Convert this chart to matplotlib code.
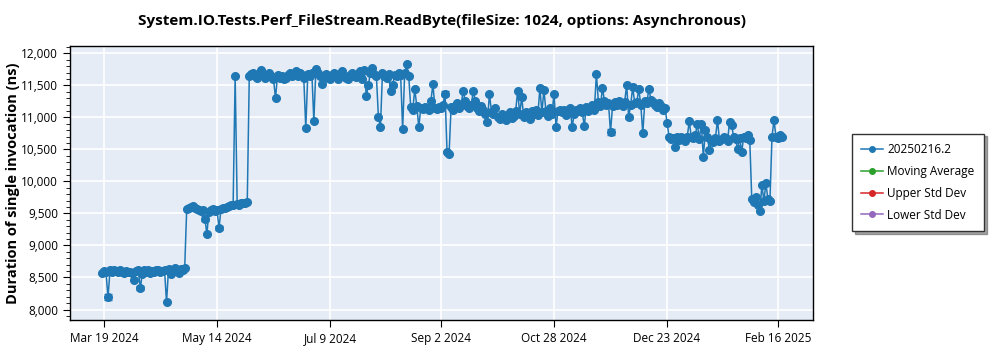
import numpy as np
import pandas as pd
import matplotlib
matplotlib.use('Agg')
from matplotlib import pyplot as plt
import matplotlib.dates as mdates
from matplotlib.ticker import MultipleLocator, FuncFormatter

plt.rcParams['font.family'] = ['Open Sans', 'DejaVu Sans']

title = 'System.IO.Tests.Perf_FileStream.ReadByte(fileSize: 1024, options: Asynchronous)'
y_label = 'Duration of single invocation (ns)'
series_names = ['20250216.2', 'Moving Average', 'Upper Std Dev', 'Lower Std Dev']
series_colors = ['#1f77b4', '#2ca02c', '#d62728', '#9467bd']

# daily results, one list per run of consecutive days
seg1_start = '2024-03-18'
seg1 = [8570, 8600, 8580, 8190, 8610, 8590, 8620, 8600, 8580, 8610, 8590, 8570, 8600, 8580,
        8590, 8570, 8455, 8600, 8620, 8330, 8560, 8610, 8590, 8620, 8570, 8600, 8590, 8610,
        8620, 8580, 8600, 8620, 8110, 8640, 8560, 8600, 8650, 8620, 8570, 8630, 8610, 8650]

seg2_start = '2024-04-29'
seg2 = [9570, 9580, 9600, 9620, 9590, 9570, 9560, 9540, 9560, 9420, 9180, 9530, 9550, 9570,
        9540, 9560, 9270, 9570, 9590, 9580, 9600, 9610, 9630, 9640, 11650, 9650, 9630, 9660,
        9670, 9660, 9680]

seg3_start = '2024-05-30'
seg3 = [11640, 11680,
        11700, 11650, 11620, 11680, 11740, 11660, 11610, 11650, 11700, 11640,
        11600, 11300, 11660, 11620, 11650, 11600, 11620, 11660, 11700, 11640,
        11680, 11720, 11650, 11700, 11660, 11620, 10830, 11680, 11650, 11700,
        10940, 11760, 11690, 11650, 11520, 11640, 11680, 11620, 11600, 11660,
        11700, 11640, 11600, 11680, 11720, 11650, 11620, 11600, 11660, 11700,
        11650, 11630, 11680, 11720, 11600, 11740, 11340, 11500, 11700, 11780, 11680,
        11640, 11000, 10850, 11700, 11650, 11620, 11680, 11420, 11500, 11660,
        11640, 11700, 11660, 10820, 11690, 11830, 11650]

seg4_start = '2024-08-18'
seg4 = [11160, 11120, 11440, 11180, 10850, 11150, 11130, 11170, 11140, 11120, 11260, 11520, 11150, 11130,
        11170, 11140, 11200, 11370, 10460, 10430, 11160, 11120, 11180, 11220,
        11150, 11200, 11420, 11250, 11180, 11140, 11200, 11410, 11260, 11150,
        11100, 11180, 11120, 11060, 10930, 11370, 11090, 11050, 11140, 11000,
        10980, 11060, 11020, 10960, 11040, 11080, 10990, 11030, 11100, 11420,
        11050, 11320, 11000, 11080, 11040, 10980, 11100, 11060, 11120, 11040,
        11460, 11080, 11430, 11100, 11020, 11140, 11060, 11370, 10850, 11100, 11120,
        11080, 11120, 11040, 11100, 11150, 10850, 11060, 11120, 11100, 11140,
        11080, 10870, 11160, 11100, 11150, 11200, 11120, 11680, 11240, 11180,
        11460, 11260, 11200, 11220, 10770, 11180, 11240, 11200, 11260, 11220,
        11180, 11240, 11510, 11000, 11200, 11470, 11220, 11240, 11440, 11200,
        10750, 11260, 11220, 11450, 11280, 11240, 11200, 11160, 11220, 11180, 11120, 11150]

seg5_start = '2024-12-23'
seg5 = [10920, 10700, 10660, 10680, 10540, 10690, 10650, 10700, 10670,
        10640, 10690, 10940, 10700, 10680, 10720, 10900, 10660, 10900, 10380,
        10800, 10700, 10490, 10650, 10620, 10680, 10960, 10640, 10660, 10700,
        10680, 10640, 10930, 10880, 10700, 10660, 10500, 10680, 10460, 10700, 10680,
        10720, 10650]

seg6_start = '2025-02-03'
seg6 = [9720, 9680, 9750, 9640, 9535, 9940, 9700, 9970, 9720, 9700]

seg7_start = '2025-02-13'
seg7 = [10690, 10960, 10700, 10680, 10720, 10700]

# points whose error bar shows outside the marker
err_dates = ['2024-03-21', '2024-04-06', '2024-05-08', '2024-05-15', '2024-07-28',
             '2024-08-09', '2024-09-04', '2024-11-25', '2024-12-04', '2025-02-05']
err_sizes = [45, 30, 40, 30, 25, 25, 40, 50, 25, 30]

tick_dates = ['2024-03-19', '2024-05-14', '2024-07-09', '2024-09-02',
              '2024-10-28', '2024-12-23', '2025-02-16']

segments = [(seg1_start, seg1), (seg2_start, seg2), (seg3_start, seg3), (seg4_start, seg4),
            (seg5_start, seg5), (seg6_start, seg6), (seg7_start, seg7)]
dates = []
values = []
for start, vals in segments:
    dates.extend(pd.date_range(start, periods=len(vals), freq='D'))
    values.extend(vals)
s = pd.Series(values, index=pd.DatetimeIndex(dates))
yerr = pd.Series(0.0, index=s.index)
for d, e in zip(err_dates, err_sizes):
    yerr[pd.Timestamp(d)] = e

fig = plt.figure(figsize=(10, 3.5), dpi=100)
ax = fig.add_axes([0.070, 0.0857, 0.743, 0.783])
ax.set_facecolor('#e5ecf6')

main = ax.errorbar(s.index, s.values, yerr=yerr.values, color=series_colors[0], lw=1.1,
                   marker='o', ms=5.5, capsize=3, elinewidth=1, zorder=3)
handles = [ax.plot([], [], color=series_colors[0], lw=1.1, marker='o', ms=4)[0]]
for c in series_colors[1:]:
    handles.append(ax.plot([], [], color=c, lw=1.1, marker='o', ms=4)[0])

ax.set_xlim(pd.Timestamp('2024-03-02 04:00'), pd.Timestamp('2025-03-05 08:00'))
ax.set_ylim(7836, 12117)
ax.set_xticks(pd.to_datetime(tick_dates))
ax.xaxis.set_major_formatter(FuncFormatter(
    lambda v, p: '{0:%b} {0.day} {0:%Y}'.format(mdates.num2date(v))))
ax.yaxis.set_major_locator(MultipleLocator(500))
ax.yaxis.set_minor_locator(MultipleLocator(100))
ax.yaxis.set_major_formatter(FuncFormatter(lambda v, p: '{:,.0f}'.format(v)))
ax.tick_params(axis='both', which='major', labelsize=8.5, length=5, color='black', direction='out')
ax.tick_params(axis='y', which='minor', length=3)
ax.grid(True, color='white', lw=1.2)
ax.set_axisbelow(True)
for sp in ax.spines.values():
    sp.set_color('black')
    sp.set_linewidth(1)

ax.set_title(title, fontsize=11, fontweight='bold', pad=15)
ax.set_ylabel(y_label, fontsize=10.5, fontweight='bold')
ax.yaxis.set_label_coords(-0.067, 0.5)

leg = fig.legend(handles, series_names, loc='center left', bbox_to_anchor=(0.846, 0.479),
                 fontsize=8.5, fancybox=False, shadow=True, framealpha=1, edgecolor='#333333',
                 handlelength=1.8, handletextpad=0.4, labelspacing=0.75, borderpad=0.8)

fig.savefig('out.png', dpi=100)
